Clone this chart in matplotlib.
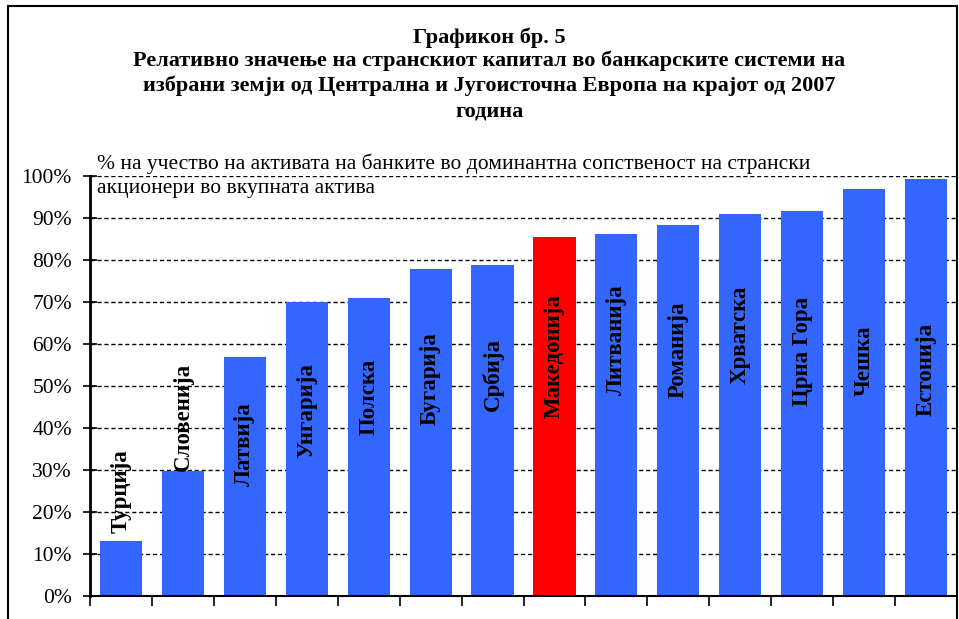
import matplotlib
matplotlib.use('Agg')
import matplotlib.pyplot as plt
from matplotlib.patches import Rectangle

# Податоци
zemji = ['Турција', 'Словенија', 'Латвија', 'Унгарија', 'Полска', 'Бугарија', 'Србија',
         'Македонија', 'Литванија', 'Романија', 'Хрватска', 'Црна Гора', 'Чешка', 'Естонија']
udel = [13.0, 29.7, 56.8, 69.9, 71.0, 77.9, 78.7, 85.5, 86.2, 88.3, 90.9, 91.7, 96.9, 99.3]
# позиција на натписите во барот (центар, во %)
natpis_y = [24.9, 42.6, 36.1, 44.0, 47.4, 51.7, 52.6, 57.1, 61.1, 58.7, 62.1, 58.3, 55.9, 54.0]
boi = ['#3366FF'] * len(zemji)
boi[zemji.index('Македонија')] = '#FF0000'

naslov = ['Графикон бр. 5',
          'Релативно значење на странскиот капитал во банкарските системи на',
          'избрани земји од Централна и Југоисточна Европа на крајот од 2007',
          'година']
podnaslov = ['% на учество на активата на банките во доминантна сопственост на странски',
             'акционери во вкупната актива']

plt.rcParams['font.family'] = ['Liberation Serif', 'DejaVu Serif']

fig = plt.figure(figsize=(9.59, 6.19), dpi=100)
ax = fig.add_axes([90 / 959, 1 - 595.7 / 619, 867 / 959, 419.7 / 619])

x = list(range(len(zemji)))
ax.bar(x, udel, width=0.68, color=boi, zorder=2)

for xi, ime, yi in zip(x, zemji, natpis_y):
    ax.text(xi, yi, ime, rotation=90, ha='center', va='center',
            fontsize=16.5, fontweight='bold', color='black', zorder=3)

ax.set_xlim(-0.5, len(zemji) - 0.5)
ax.set_ylim(0, 100)
ax.set_yticks(range(0, 101, 10))
ax.set_yticklabels([f'{v}%' for v in range(0, 101, 10)], fontsize=15.5)
ax.set_xticks([i - 0.5 for i in range(len(zemji) + 1)])
ax.set_xticklabels([])
ax.tick_params(axis='x', direction='out', length=7, width=1.2, color='black')
ax.tick_params(axis='y', direction='inout', length=10, width=1.2, color='black', pad=8)
ax.yaxis.grid(True, linestyle=(0, (3, 2)), color='black', linewidth=1, zorder=1)
ax.set_axisbelow(True)
for s in ['top', 'right']:
    ax.spines[s].set_visible(False)
ax.spines['left'].set_linewidth(2)
ax.spines['bottom'].set_linewidth(1.5)

# наслов
ys = [38, 61, 86, 112]
for t, y in zip(naslov, ys):
    fig.text(0.5 + 10 / 959, 1 - y / 619, t, ha='center', va='center',
             fontsize=16, fontweight='bold')
fig.text(97 / 959, 1 - 164 / 619, podnaslov[0], ha='left', va='center', fontsize=15.5)
fig.text(97 / 959, 1 - 188 / 619, podnaslov[1], ha='left', va='center', fontsize=15.5)

# рамка
fig.patches.append(Rectangle((8 / 959, -0.05), 949 / 959, 1.05 - 6 / 619,
                             transform=fig.transFigure, fill=False,
                             edgecolor='black', linewidth=1.5))

fig.savefig('out.png', dpi=100)
